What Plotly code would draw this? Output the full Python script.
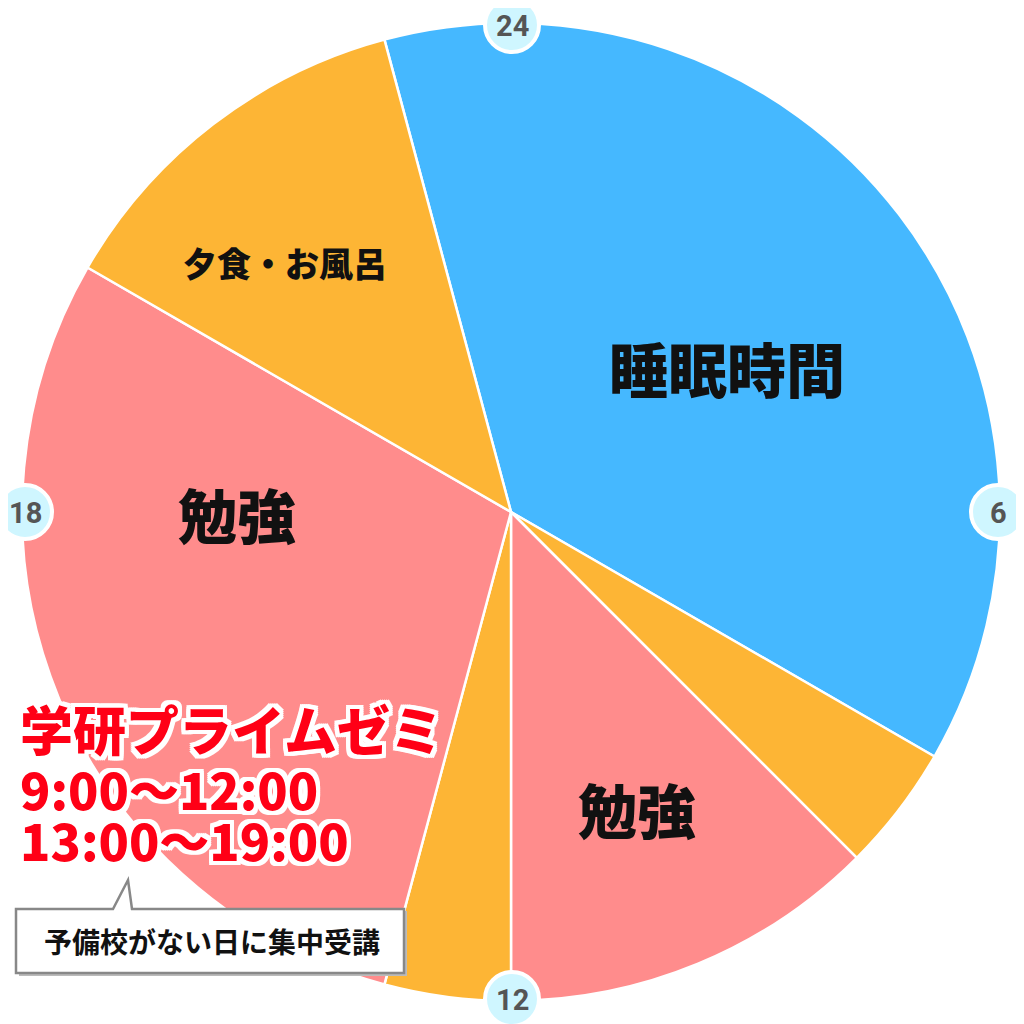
import plotly.graph_objects as go

# Data: 24h schedule, clockwise starting at 23:00
activities = ["睡眠時間", "移動1", "勉強(午前)", "昼食", "勉強(午後)", "夕食・お風呂"]
hours = [9, 1, 3, 1, 7, 3]
colors = ["#45B8FF", "#FDB535", "#FF8C8C", "#FDB535", "#FF8C8C", "#FDB535"]
start_hour = 23
hour_ticks = ["24", "6", "12", "18"]
slice_labels = ["睡眠時間", "勉強", "勉強", "夕食・お風呂"]

FONT = "Noto Sans CJK JP"
OFF = 8          # page body margin
W = 1024 - OFF   # figure size
cx, cy, R = 511, 512, 489

def px(x):
    return (x - OFF) / W

def py(y):
    return 1 - (y - OFF) / W

fig = go.Figure()
fig.add_trace(go.Pie(
    labels=activities,
    values=hours,
    sort=False,
    direction="clockwise",
    rotation=(start_hour - 24) * 15,
    marker=dict(colors=colors, line=dict(color="white", width=2.5)),
    textinfo="none",
    hoverinfo="label+value",
    showlegend=False,
    domain=dict(x=[px(cx - R), px(cx + R)], y=[py(cy + R), py(cy - R)]),
))

shapes = []
annotations = []

def ann(x, y, text, size, color="#111", weight="bold", family=FONT, xanchor="center", shadow=None):
    f = dict(family=family, size=size, color=color, weight=weight)
    if shadow:
        f["shadow"] = shadow
    annotations.append(dict(x=px(x), y=py(y), xref="paper", yref="paper", text=text,
                            xanchor=xanchor, yanchor="middle", showarrow=False, font=f))

# slice labels
label_pos = [(727, 367, 59), (637, 808, 59), (237, 513, 59), (285, 262, 34)]
for txt, (x, y, s) in zip(slice_labels, label_pos):
    ann(x, y, txt, s, weight=900)

# hour tick circles
tick_pos = [(512, 25), (998, 512), (512, 999), (25, 512)]
for txt, (x, y) in zip(hour_ticks, tick_pos):
    r = 27
    shapes.append(dict(type="circle", xref="paper", yref="paper",
                       x0=px(x - r), x1=px(x + r), y0=py(y + r), y1=py(y - r),
                       fillcolor="#CFF6FF", line=dict(color="white", width=4)))
    ann(x, y + 1, txt, 29, color="#555", family="Roboto")

# callout box with shadow
shapes.append(dict(type="rect", xref="paper", yref="paper",
                   x0=px(19), x1=px(407), y0=py(976), y1=py(911),
                   fillcolor="#BBBBBB", line=dict(width=0)))
shapes.append(dict(type="path", xref="paper", yref="paper",
                   path=f"M {px(16)},{py(909)} L {px(113)},{py(909)} L {px(128)},{py(880)} L {px(132)},{py(909)} "
                        f"L {px(404)},{py(909)} L {px(404)},{py(973)} L {px(16)},{py(973)} Z",
                   fillcolor="white", line=dict(color="#888888", width=2.5)))
ann(212, 941, "予備校がない日に集中受講", 28)

# red title text with white outline
outline = ", ".join(f"{dx}px {dy}px 0 #fff" for dx in (-4, -2, 0, 2, 4) for dy in (-4, -2, 0, 2, 4)
                    if (dx, dy) != (0, 0))
red_lines = [("学研プライムゼミ", 728, 53), ("9:00～12:00", 788, 50), ("13:00～19:00", 839, 50)]
for txt, y, s in red_lines:
    ann(18, y, txt, s, color="#FF0016", weight=900, xanchor="left", shadow=outline)

fig.update_layout(
    width=W, height=W,
    margin=dict(l=0, r=0, t=0, b=0),
    paper_bgcolor="white", plot_bgcolor="white",
    shapes=shapes, annotations=annotations,
)
fig.write_html("out.html")
